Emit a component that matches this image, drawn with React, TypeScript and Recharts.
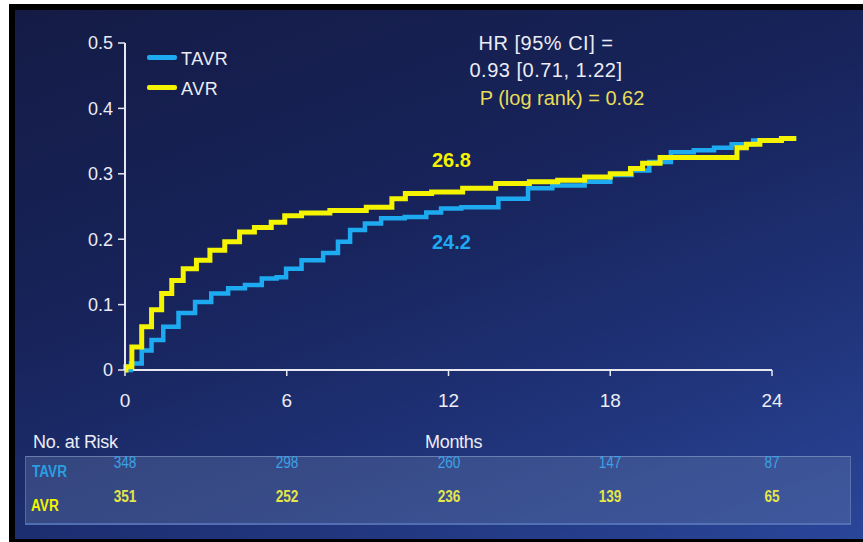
import React from "react";
import { LineChart, Line, XAxis, YAxis, ReferenceLine } from "recharts";

// ---- data ----
const xTicks = [0, 6, 12, 18, 24];
const yTicks = [0, 0.1, 0.2, 0.3, 0.4, 0.5];

const tavrMonths = [0, 0.44, 0.8, 1.17, 1.67, 2.3, 2.9, 3.5, 4.15, 4.75, 5.4, 5.85, 6.1, 7.0, 7.7, 8.1, 8.6, 9.2, 9.8, 10.95, 11.4, 12.05, 12.9, 14.8, 15.1, 16.6, 17.5, 18.5, 19.1, 19.8, 20.7, 21.5, 22.2, 22.8, 23.8, 24.9];
const tavrRisk = [0, 0.01, 0.03, 0.046, 0.066, 0.087, 0.104, 0.117, 0.125, 0.13, 0.14, 0.142, 0.155, 0.168, 0.179, 0.196, 0.214, 0.224, 0.232, 0.234, 0.241, 0.247, 0.249, 0.262, 0.278, 0.282, 0.288, 0.298, 0.305, 0.318, 0.333, 0.336, 0.34, 0.345, 0.351, 0.354];

const avrMonths = [0, 0.07, 0.44, 0.8, 1.17, 1.55, 1.92, 2.4, 2.9, 3.4, 4.0, 4.5, 5.1, 5.75, 6.1, 7.0, 8.2, 9.7, 10.1, 10.7, 12.05, 13.0, 14.5, 15.5, 16.6, 17.5, 18.5, 19.0, 19.4, 20.3, 21.5, 22.6, 22.8, 23.3, 23.8, 24.9];
const avrRisk = [0, 0.005, 0.035, 0.066, 0.092, 0.117, 0.137, 0.155, 0.168, 0.183, 0.196, 0.211, 0.218, 0.226, 0.236, 0.24, 0.244, 0.249, 0.262, 0.27, 0.272, 0.278, 0.285, 0.288, 0.29, 0.295, 0.3, 0.308, 0.316, 0.325, 0.325, 0.325, 0.34, 0.345, 0.351, 0.354];

const tavrAtRisk = [348, 298, 260, 147, 87];
const avrAtRisk = [351, 252, 236, 139, 65];

const tavrData = tavrMonths.map((m, i) => ({ m, v: tavrRisk[i] }));
const avrData = avrMonths.map((m, i) => ({ m, v: avrRisk[i] }));

// ---- style ----
const BLUE = "#1eaaf0";
const YELLOW = "#f4f400";
const TEXT = "#ececf4";
const FONT = "'Liberation Sans', Arial, sans-serif";

const W = 863;
const H = 542;
const PLOT_LEFT = 125;
const PLOT_TOP = 43;
const PLOT_BOTTOM = 370;
const X_MAX = 25;
const PX_PER_MONTH = (772 - 125) / 24;
const PLOT_RIGHT = PLOT_LEFT + X_MAX * PX_PER_MONTH;

const xPos = (m: number) => PLOT_LEFT + m * PX_PER_MONTH;

const abs = (s: React.CSSProperties): React.CSSProperties => ({ position: "absolute", ...s });

export default function App() {
  return (
    <div style={{ position: "absolute", left: 0, top: 0, width: W, height: H, background: "#ffffff", overflow: "hidden", fontFamily: FONT }}>
      <div style={abs({ left: 9, top: 4, width: W - 9, height: H - 4, background: "#000" })} />
      <div
        style={abs({
          left: 15,
          top: 10,
          width: W - 15,
          height: H - 13,
          background: "linear-gradient(160deg, #141b45 0%, #17235a 40%, #1f3277 70%, #2a4699 100%)",
        })}
      />

      <div style={abs({ left: 0, top: 0 })}>
        <LineChart
          width={W}
          height={H}
          margin={{ top: PLOT_TOP, left: PLOT_LEFT - 60, right: W - PLOT_RIGHT, bottom: H - PLOT_BOTTOM - 32 }}
        >
          <XAxis
            type="number"
            dataKey="m"
            domain={[0, X_MAX]}
            ticks={xTicks}
            axisLine={false}
            tickLine={{ stroke: "#e8e8f0", strokeWidth: 1.5 }}
            tickSize={6}
            tickMargin={18}
            height={32}
            tick={{ fill: TEXT, fontSize: 19, fontFamily: FONT }}
            allowDuplicatedCategory={false}
          />
          <YAxis
            type="number"
            dataKey="v"
            domain={[0, 0.5]}
            ticks={yTicks}
            width={60}
            axisLine={{ stroke: "#e8e8f0", strokeWidth: 2 }}
            tickLine={{ stroke: "#e8e8f0", strokeWidth: 1.5 }}
            tickSize={7}
            tickMargin={5}
            tick={{ fill: TEXT, fontSize: 18, fontFamily: FONT }}
            tickFormatter={(v: number) => (v === 0 ? "0" : String(v))}
          />
          <ReferenceLine
            segment={[{ x: 0, y: 0 }, { x: 24, y: 0 }]}
            stroke="#e8e8f0"
            strokeWidth={2}
            ifOverflow="visible"
          />
          <Line
            data={tavrData}
            dataKey="v"
            type="step"
            stroke={BLUE}
            strokeWidth={4.5}
            dot={false}
            isAnimationActive={false}
          />
          <Line
            data={avrData}
            dataKey="v"
            type="step"
            stroke={YELLOW}
            strokeWidth={5}
            dot={false}
            isAnimationActive={false}
          />
        </LineChart>
      </div>

      {/* legend */}
      <div style={abs({ left: 147, top: 55, width: 30, height: 5, background: BLUE, borderRadius: 2 })} />
      <div style={abs({ left: 181, top: 49, color: TEXT, fontSize: 18, lineHeight: "20px", letterSpacing: 0.5 })}>TAVR</div>
      <div style={abs({ left: 147, top: 85, width: 30, height: 5, background: YELLOW, borderRadius: 2 })} />
      <div style={abs({ left: 181, top: 79, color: TEXT, fontSize: 18, lineHeight: "20px", letterSpacing: 0.5 })}>AVR</div>

      {/* HR text */}
      <div style={abs({ left: 446, top: 31, width: 200, textAlign: "center", color: TEXT, fontSize: 20, lineHeight: "24px", letterSpacing: 0.5 })}>
        HR [95% CI] =
      </div>
      <div style={abs({ left: 446, top: 58, width: 200, textAlign: "center", color: TEXT, fontSize: 20, lineHeight: "24px", letterSpacing: 0.5 })}>
        0.93 [0.71, 1.22]
      </div>
      <div style={abs({ left: 462, top: 86, width: 200, textAlign: "center", color: "#e8dc5a", fontSize: 20, lineHeight: "24px" })}>
        P (log rank) = 0.62
      </div>

      {/* annotations */}
      <div style={abs({ left: 432, top: 149, color: YELLOW, fontSize: 20, fontWeight: "bold", lineHeight: "22px" })}>26.8</div>
      <div style={abs({ left: 432, top: 231, color: BLUE, fontSize: 20, fontWeight: "bold", lineHeight: "22px" })}>24.2</div>

      {/* axis titles */}
      <div style={abs({ left: 33, top: 432, color: TEXT, fontSize: 18, lineHeight: "20px", letterSpacing: -0.3 })}>No. at Risk</div>
      <div style={abs({ left: 425, top: 432, color: TEXT, fontSize: 18, lineHeight: "20px", letterSpacing: -0.3 })}>Months</div>

      {/* risk table */}
      <div
        style={abs({
          left: 25,
          top: 456,
          width: 826,
          height: 69,
          background: "rgba(110,130,175,0.32)",
          borderTop: "1px solid rgba(140,160,200,0.6)",
          borderBottom: "2px solid rgba(90,120,190,0.8)",
          borderLeft: "1px solid rgba(120,140,190,0.5)",
          borderRight: "1px solid rgba(120,140,190,0.5)",
          boxSizing: "border-box",
        })}
      />
      <div style={abs({ left: 32, top: 463, color: "#2a9ee0", fontSize: 16, fontWeight: "bold", lineHeight: "18px", transform: "scaleX(0.85)", transformOrigin: "left" })}>TAVR</div>
      <div style={abs({ left: 31, top: 497, color: YELLOW, fontSize: 16, fontWeight: "bold", lineHeight: "18px", transform: "scaleX(0.85)", transformOrigin: "left" })}>AVR</div>
      {xTicks.map((t, i) => (
        <React.Fragment key={t}>
          <div style={abs({ left: xPos(t) - 30, top: 453, width: 60, textAlign: "center", color: "#3aa2e6", fontSize: 17, lineHeight: "20px", transform: "scaleX(0.8)" })}>
            {tavrAtRisk[i]}
          </div>
          <div style={abs({ left: xPos(t) - 30, top: 487, width: 60, textAlign: "center", color: "#e4e64a", fontSize: 17, fontWeight: "bold", lineHeight: "20px", transform: "scaleX(0.8)" })}>
            {avrAtRisk[i]}
          </div>
        </React.Fragment>
      ))}
    </div>
  );
}
